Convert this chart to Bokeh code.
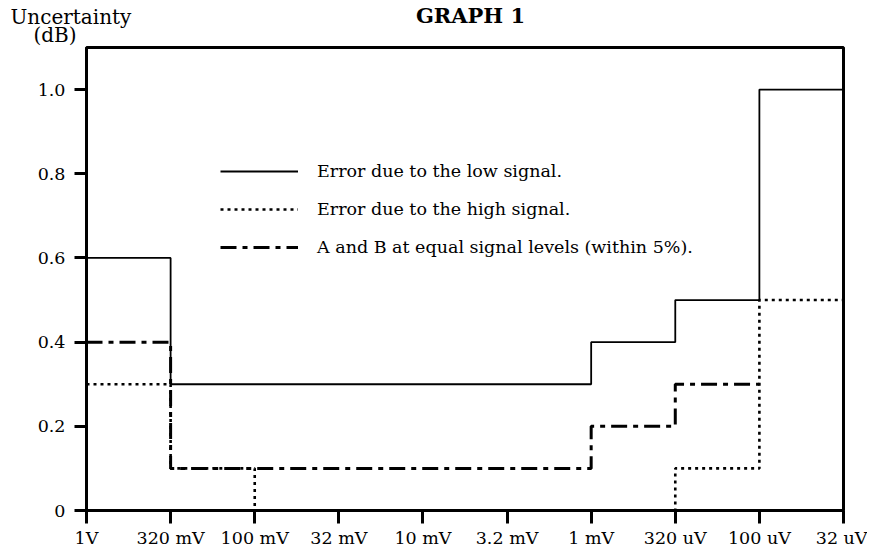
from bokeh.plotting import figure
from bokeh.models import Range1d, FixedTicker, Legend, LegendItem, Label, BoxAnnotation
from bokeh.embed import file_html
from bokeh.resources import INLINE

# ---- data ----
tick_labels = ["1V", "320 mV", "100 mV", "32 mV", "10 mV", "3.2 mV", "1 mV", "320 uV", "100 uV", "32 uV"]
y_ticks = [0, 0.2, 0.4, 0.6, 0.8, 1.0]
y_tick_labels = ["0", "0.2", "0.4", "0.6", "0.8", "1.0"]
# uncertainty (dB) in each range interval
low_signal = [0.6, 0.3, 0.3, 0.3, 0.3, 0.3, 0.4, 0.5, 1.0]
high_signal = [0.3, 0.1, 0.0, 0.0, 0.0, 0.0, 0.0, 0.1, 0.5]
equal_levels = [0.4, 0.1, 0.1, 0.1, 0.1, 0.1, 0.2, 0.3]
series_names = ["Error due to the low signal.",
                "Error due to the high signal.",
                "A and B at equal signal levels (within 5%)."]
title_text = "GRAPH 1"
y_title = ["Uncertainty", "(dB)"]

FONT = "DejaVu Serif"
FS = "17.5px"

# layout of the drawing area (pixels)
W, H = 867, 546
AX_L, AX_R, AX_T, AX_B = 86, 843, 47, 510      # plot box edges on the canvas
X_MAX, Y_MAX = len(tick_labels) - 1, 1.1
kx = (AX_R - AX_L) / X_MAX
ky = (AX_B - AX_T) / Y_MAX

p = figure(width=W, height=H, output_backend="svg", toolbar_location=None,
           x_range=Range1d(-AX_L / kx, X_MAX + (W - AX_R) / kx),
           y_range=Range1d(-(H - AX_B) / ky, Y_MAX + AX_T / ky),
           min_border_left=0, min_border_top=0, min_border_right=0, min_border_bottom=0)
p.xgrid.visible = False
p.ygrid.visible = False
p.outline_line_color = None
p.background_fill_color = "white"
p.border_fill_color = "white"

for ax in (p.xaxis[0], p.yaxis[0]):
    ax.axis_line_width = 3
    ax.axis_line_color = "black"
    ax.major_tick_line_width = 3
    ax.major_tick_line_color = "black"
    ax.major_tick_in = 0
    ax.minor_tick_line_color = None
    ax.major_label_text_font = FONT
    ax.major_label_text_font_size = FS
    ax.major_label_text_color = "black"

p.xaxis.ticker = FixedTicker(ticks=list(range(len(tick_labels))))
p.xaxis.major_label_overrides = {i: t for i, t in enumerate(tick_labels)}
p.xaxis.major_tick_out = 13
p.xaxis.major_label_standoff = 4
p.xaxis.bounds = (0, X_MAX)
p.xaxis.fixed_location = 0

p.yaxis.ticker = FixedTicker(ticks=y_ticks)
p.yaxis.major_label_overrides = {v: t for v, t in zip(y_ticks, y_tick_labels)}
p.yaxis.major_tick_out = 12
p.yaxis.major_label_standoff = 9
p.yaxis.bounds = (0, Y_MAX)
p.yaxis.fixed_location = 0

# top and right edges of the plot box
p.add_layout(BoxAnnotation(left=0, right=X_MAX, bottom=0, top=Y_MAX, fill_alpha=0,
                           line_color="black", line_alpha=1, line_width=3))


def steps(vals):
    xs = list(range(len(vals) + 1))
    ys = list(vals) + [vals[-1]]
    return xs, ys

x1, y1 = steps(low_signal)
x2, y2 = steps(high_signal)
x3, y3 = steps(equal_levels)

r1 = p.step(x1, y1, mode="after", line_color="black", line_width=1.8)
r2 = p.step(x2, y2, mode="after", line_color="black", line_width=2.6, line_dash="3 4")
r3 = p.step(x3, y3, mode="after", line_color="black", line_width=3, line_dash="16 6 5 6")

legend = Legend(items=[LegendItem(label=series_names[0], renderers=[r1]),
                       LegendItem(label=series_names[1], renderers=[r2]),
                       LegendItem(label=series_names[2], renderers=[r3])],
                location=(220, H - 257), padding=0, margin=0, spacing=18,
                glyph_width=78, glyph_height=20, label_height=20, label_standoff=19,
                label_text_font=FONT, label_text_font_size=FS, label_text_color="black",
                border_line_alpha=0, background_fill_alpha=0)
p.add_layout(legend, "center")

# texts above the plot box (screen units measured from the drawing area's bottom-left)
p.add_layout(Label(x=470, y=H - 15, x_units="screen", y_units="screen", text=title_text,
                   text_font=FONT, text_font_size="21px", text_font_style="bold",
                   text_color="black", text_align="center", text_baseline="middle"))
p.add_layout(Label(x=10, y=H - 16, x_units="screen", y_units="screen", text=y_title[0],
                   text_font=FONT, text_font_size="20px", text_color="black",
                   text_align="left", text_baseline="middle"))
p.add_layout(Label(x=33, y=H - 34, x_units="screen", y_units="screen", text=y_title[1],
                   text_font=FONT, text_font_size="20px", text_color="black",
                   text_align="left", text_baseline="middle"))

open("out.html", "w").write(file_html(p, INLINE))
